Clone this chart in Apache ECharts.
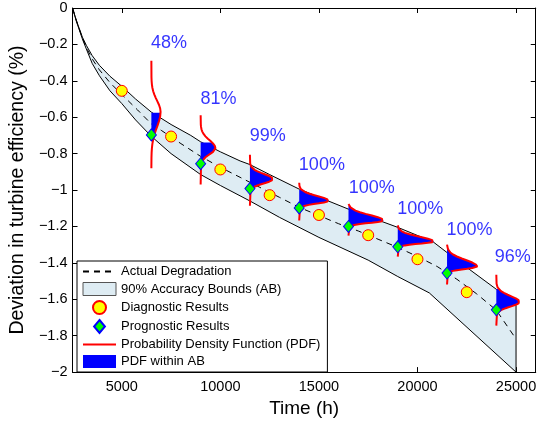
<!DOCTYPE html>
<html>
<head>
<meta charset="utf-8">
<script src="https://cdn.jsdelivr.net/npm/echarts@6/dist/echarts.min.js"></script>
<style>
  html, body { margin: 0; padding: 0; background: #fff; }
  #chart { width: 539px; height: 423px; }
</style>
</head>
<body>
<div id="chart"></div>
<script>
// actual degradation (dashed)
var actX = [2500, 2700, 3000, 3200, 3500, 3865, 4400, 5000, 5800, 6500, 7000, 8000, 9000, 10000, 11000, 12000, 13000, 14000, 15000, 16000, 17000, 18000, 19000, 20000, 21000, 22000, 23000, 24000, 25000];
var actY = [0, -0.07, -0.165, -0.217, -0.28, -0.34, -0.41, -0.475, -0.56, -0.637, -0.672, -0.745, -0.815, -0.875, -0.93, -0.985, -1.04, -1.095, -1.14, -1.185, -1.225, -1.27, -1.315, -1.365, -1.42, -1.49, -1.57, -1.66, -1.818];

// 90% accuracy bounds
var upperX = [2500, 2700, 3000, 3200, 3500, 3865, 4400, 5000, 5700, 6500, 7500, 8500, 9000, 10000, 11000, 11500, 12500, 14000, 16500, 19000, 20800, 22000, 24000, 25000];
var upperY = [0, -0.07, -0.16, -0.205, -0.262, -0.315, -0.375, -0.43, -0.50, -0.572, -0.64, -0.70, -0.735, -0.79, -0.84, -0.86, -0.915, -0.995, -1.105, -1.205, -1.285, -1.385, -1.545, -1.633];
var lowerX = [2500, 2700, 3000, 3200, 3500, 3865, 4400, 5000, 5700, 6500, 7500, 9000, 10000, 11500, 13000, 15000, 17500, 19000, 20600, 25000];
var lowerY = [0, -0.075, -0.17, -0.225, -0.305, -0.372, -0.455, -0.525, -0.615, -0.705, -0.80, -0.915, -0.975, -1.06, -1.15, -1.26, -1.385, -1.475, -1.565, -2.0];

// diagnostic / prognostic results
var diagX = [5000, 7500, 10000, 12500, 15000, 17500, 20000, 22500];
var diagY = [-0.455, -0.706, -0.887, -1.028, -1.137, -1.248, -1.38, -1.561];
var progX = [6500, 9000, 11500, 14000, 16500, 19000, 21500, 24000];
var progY = [-0.697, -0.855, -0.992, -1.098, -1.20, -1.312, -1.456, -1.658];

// PDFs drawn at each prognostic time
var pdfPeakY = [-0.571, -0.77, -0.94, -1.059, -1.167, -1.283, -1.42, -1.615];
var pdfUp = [0.19, 0.13, 0.085, 0.08, 0.09, 0.08, 0.11, 0.10];
var pdfDown = [0.25, 0.10, 0.07, 0.045, 0.04, 0.035, 0.04, 0.075];
var pdfWidth = [467, 750, 1167, 1500, 1783, 1833, 1533, 1183];
var pdfTailTop = [-0.29, -0.589, -0.806, -0.96, -1.077, -1.194, -1.30, -1.465];
var pdfTailBottom = [-0.88, -0.97, -1.086, -1.167, -1.25, -1.366, -1.519, -1.745];
var abTop = [-0.575, -0.739, -0.86, -1.0, -1.086, -1.203, -1.32, -1.543];
var abBottom = [-0.705, -0.915, -1.05, -1.217, -1.338, -1.49, -1.63, -1.90];
// shape of the density curve (t: -1..1 across the curve, f: relative width)
var shapeT = [1, 0.9, 0.8, 0.7, 0.6, 0.5, 0.4, 0.3, 0.2, 0.1, 0, -0.1, -0.2, -0.3, -0.4, -0.5, -0.6, -0.7, -0.8, -0.9, -1];
var shapeF = [0.011, 0.026, 0.056, 0.11, 0.198, 0.325, 0.487, 0.667, 0.835, 0.956, 1, 0.956, 0.835, 0.667, 0.487, 0.325, 0.198, 0.11, 0.056, 0.026, 0.011];

var pctX = [7400, 9900, 12400, 15150, 17675, 20140, 22640, 24835];
var pctY = [-0.19, -0.50, -0.705, -0.862, -0.99, -1.104, -1.217, -1.37];
var pctText = ['48%', '81%', '99%', '100%', '100%', '100%', '100%', '96%'];

var FONT = 'Liberation Sans, Arial, Helvetica, sans-serif';

function zip(xs, ys) {
  return xs.map(function (x, i) { return [x, ys[i]]; });
}

function curveY(i, t) {
  return pdfPeakY[i] + (t > 0 ? t * pdfUp[i] : t * pdfDown[i]);
}

// x of the density curve at height y
function curveXAt(i, y) {
  var t = y >= pdfPeakY[i] ? (y - pdfPeakY[i]) / pdfUp[i] : (y - pdfPeakY[i]) / pdfDown[i];
  if (t > 1 || t < -1) return progX[i];
  for (var k = 0; k < shapeT.length - 1; k++) {
    if (t <= shapeT[k] && t >= shapeT[k + 1]) {
      var a = (shapeT[k] - t) / (shapeT[k] - shapeT[k + 1]);
      return progX[i] + (shapeF[k] + a * (shapeF[k + 1] - shapeF[k])) * pdfWidth[i];
    }
  }
  return progX[i];
}

function pdfLine(i) {
  var pts = [[progX[i], pdfTailTop[i]]];
  for (var k = 0; k < shapeT.length; k++) {
    pts.push([progX[i] + shapeF[k] * pdfWidth[i], curveY(i, shapeT[k])]);
  }
  pts.push([progX[i], pdfTailBottom[i]]);
  return pts;
}

// blue part: the density between the two bounds
function pdfFill(i) {
  var top = Math.min(abTop[i], pdfPeakY[i] + pdfUp[i]);
  var bot = Math.max(abBottom[i], pdfPeakY[i] - pdfDown[i]);
  var pts = [[progX[i], top], [curveXAt(i, top), top]];
  for (var k = 0; k < shapeT.length; k++) {
    var y = curveY(i, shapeT[k]);
    if (y < top && y > bot) pts.push([progX[i] + shapeF[k] * pdfWidth[i], y]);
  }
  pts.push([curveXAt(i, bot), bot]);
  pts.push([progX[i], bot]);
  return pts;
}

var chart = echarts.init(document.getElementById('chart'));

var noSymbol = { color: 'rgba(0,0,0,0)', borderWidth: 0 };

var series = [
  {
    name: '90% Accuracy Bounds (AB)',
    type: 'custom',
    itemStyle: { color: '#deecf3' },
    data: [[upperX[0], upperY[0]]],
    renderItem: function (params, api) {
      var pts = [];
      upperX.forEach(function (x, i) { pts.push(api.coord([x, upperY[i]])); });
      for (var i = lowerX.length - 1; i >= 0; i--) pts.push(api.coord([lowerX[i], lowerY[i]]));
      return { type: 'polygon', shape: { points: pts }, style: { fill: '#deecf3', stroke: '#000', lineWidth: 1 } };
    },
    z: 1
  },
  {
    name: 'Actual Degradation',
    type: 'line',
    data: zip(actX, actY),
    showSymbol: false,
    symbol: 'none',
    itemStyle: noSymbol,
    lineStyle: { color: '#000', width: 1, type: [6, 5] },
    z: 2
  },
  {
    name: 'PDF within AB',
    type: 'custom',
    itemStyle: { color: '#0000ff' },
    data: zip(progX, pdfPeakY),
    renderItem: function (params, api) {
      var pts = pdfFill(params.dataIndex).map(function (p) { return api.coord(p); });
      return { type: 'polygon', shape: { points: pts }, style: { fill: '#0000ff' } };
    },
    z: 3
  }
];

for (var i = 0; i < progX.length; i++) {
  series.push({
    name: 'Probability Density Function (PDF)',
    type: 'line',
    data: pdfLine(i),
    showSymbol: false,
    symbol: 'none',
    itemStyle: noSymbol,
    lineStyle: { color: '#ff0000', width: 2 },
    z: 4
  });
}

series.push(
  {
    name: 'Diagnostic Results',
    type: 'scatter',
    data: zip(diagX, diagY),
    symbol: 'circle',
    symbolSize: 11,
    itemStyle: { color: '#ffff00', borderColor: '#ff0000', borderWidth: 1, opacity: 1 },
    z: 5
  },
  {
    name: 'Prognostic Results',
    type: 'scatter',
    data: zip(progX, progY),
    symbol: 'diamond',
    symbolSize: [10, 12],
    itemStyle: { color: '#00ff00', borderColor: '#0000ff', borderWidth: 1, opacity: 1 },
    z: 6
  },
  {
    name: 'pct',
    type: 'scatter',
    data: zip(pctX, pctY),
    symbolSize: 1,
    itemStyle: { color: 'transparent' },
    label: {
      show: true,
      position: 'inside',
      formatter: function (p) { return pctText[p.dataIndex]; },
      color: '#0000ff',
      fontSize: 18,
      fontFamily: FONT
    },
    silent: true,
    z: 7
  }
);

function yFmt(v) {
  if (Math.abs(v) < 1e-9) return '0';
  return String(+v.toFixed(1)).replace('-', '\u2212');
}

var axisCommon = {
  axisLine: { show: true, onZero: false, lineStyle: { color: '#000', width: 1 } },
  axisTick: { show: true, inside: true, length: 5, lineStyle: { color: '#000' } },
  splitLine: { show: false }
};

chart.setOption({
  animation: false,
  backgroundColor: '#fff',
  textStyle: { fontFamily: FONT },
  grid: { left: 68, right: 2, top: 8, bottom: 46 },
  legend: {
    orient: 'vertical',
    left: 77,
    top: 261,
    backgroundColor: '#fff',
    borderColor: '#000',
    borderWidth: 1,
    borderRadius: 0,
    padding: [4, 7, 4, 5],
    itemWidth: 33,
    itemHeight: 13,
    itemGap: 4,
    itemTextGap: 3,
    textStyle: { fontSize: 13, color: '#000', fontFamily: FONT, lineHeight: 13 },
    data: [
      { name: 'Actual Degradation' },
      { name: '90% Accuracy Bounds (AB)', icon: 'rect', itemStyle: { color: '#deecf3', borderColor: '#555', borderWidth: 1 } },
      { name: 'Diagnostic Results' },
      { name: 'Prognostic Results', icon: 'path://M5,0L10,6L5,12L0,6Z' },
      { name: 'Probability Density Function (PDF)' },
      { name: 'PDF within AB', icon: 'rect', itemStyle: { color: '#0000ff' } }
    ],
    z: 10
  },
  xAxis: [
    Object.assign({}, axisCommon, {
      type: 'value', min: 2500, max: 26000, position: 'bottom',
      name: 'Time (h)', nameLocation: 'middle', nameGap: 18,
      nameTextStyle: { fontSize: 19, color: '#000', fontFamily: FONT },
      axisLabel: {
        color: '#000', fontSize: 14.5, margin: 7, showMinLabel: false, showMaxLabel: false, fontFamily: FONT,
        formatter: function (v) { return String(v); }
      }
    }),
    Object.assign({}, axisCommon, {
      type: 'value', min: 2500, max: 26000, position: 'top',
      axisLabel: { show: false }
    })
  ],
  yAxis: [
    Object.assign({}, axisCommon, {
      type: 'value', min: -2, max: 0, interval: 0.2, position: 'left',
      name: 'Deviation in turbine efficiency (%)', nameLocation: 'middle', nameGap: 35,
      nameTextStyle: { fontSize: 19.5, color: '#000', fontFamily: FONT },
      axisLabel: { color: '#000', fontSize: 14.5, margin: 5, formatter: yFmt, fontFamily: FONT }
    }),
    Object.assign({}, axisCommon, {
      type: 'value', min: -2, max: 0, interval: 0.2, position: 'right',
      axisLabel: { show: false }
    })
  ],
  series: series
});
</script>
</body>
</html>
